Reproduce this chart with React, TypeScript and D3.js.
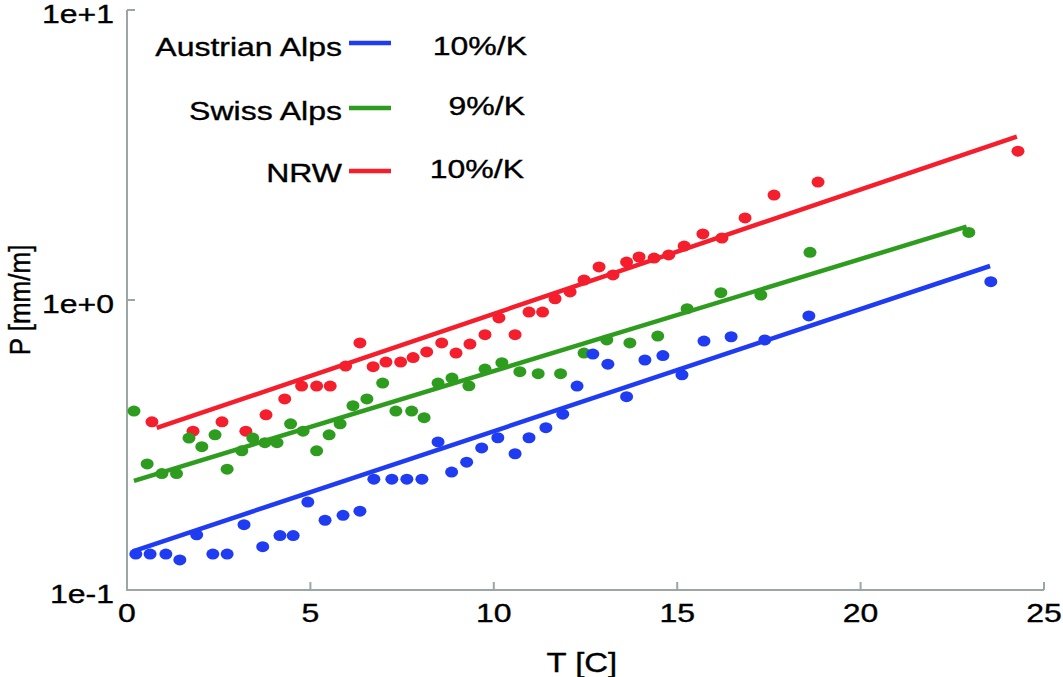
import * as d3 from 'd3';

import { useCallback } from 'react';

const width = 1063;
const height = 677;

// temperature [C] and precipitation [mm/m]
const austrianT = [
  0.24, 0.63, 1.06, 1.44, 1.9, 2.34, 2.73, 3.19, 3.7, 4.17, 4.53, 4.93, 5.4, 5.89, 6.35, 6.73, 7.22, 7.63,
  8.04, 8.48, 8.85, 9.26, 9.67, 10.11, 10.58, 10.96, 11.42, 11.88, 12.27, 12.7, 13.11, 13.62, 14.12, 14.61,
  15.13, 15.73, 16.47, 17.39, 18.59, 23.55,
];
const austrianP = [
  0.133, 0.133, 0.133, 0.127, 0.155, 0.133, 0.133, 0.168, 0.141, 0.154, 0.154, 0.201, 0.174, 0.181, 0.187,
  0.241, 0.241, 0.241, 0.241, 0.324, 0.255, 0.276, 0.309, 0.335, 0.295, 0.335, 0.363, 0.404, 0.505, 0.651,
  0.601, 0.464, 0.621, 0.643, 0.552, 0.722, 0.747, 0.728, 0.881, 1.157,
];

const swissT = [
  0.19, 0.55, 0.95, 1.35, 1.69, 2.04, 2.4, 2.73, 3.13, 3.43, 3.76, 4.09, 4.46, 4.8, 5.17, 5.51, 5.81, 6.16,
  6.54, 6.97, 7.33, 7.76, 8.1, 8.48, 8.86, 9.32, 9.76, 10.22, 10.71, 11.21, 11.82, 12.46, 13.08, 13.71, 14.47,
  15.27, 16.19, 17.28, 18.62, 22.95,
];
const swissP = [
  0.414, 0.272, 0.252, 0.252, 0.334, 0.312, 0.343, 0.261, 0.302, 0.334, 0.322, 0.322, 0.374, 0.353, 0.302,
  0.343, 0.374, 0.432, 0.456, 0.517, 0.414, 0.414, 0.393, 0.517, 0.538, 0.506, 0.578, 0.608, 0.566, 0.557,
  0.557, 0.656, 0.728, 0.711, 0.751, 0.933, 1.06, 1.04, 1.46, 1.71,
];

const nrwT = [
  0.68, 1.8, 2.59, 3.24, 3.79, 4.3, 4.76, 5.17, 5.54, 5.96, 6.35, 6.71, 7.06, 7.46, 7.8, 8.17, 8.58, 8.97,
  9.35, 9.76, 10.14, 10.58, 10.96, 11.33, 11.67, 12.08, 12.46, 12.87, 13.25, 13.62, 13.96, 14.37, 14.77,
  15.19, 15.7, 16.22, 16.85, 17.64, 18.84, 24.29,
];
const nrwP = [
  0.38, 0.353, 0.38, 0.353, 0.402, 0.456, 0.505, 0.505, 0.505, 0.592, 0.711, 0.589, 0.611, 0.611, 0.633,
  0.662, 0.711, 0.656, 0.705, 0.759, 0.867, 0.759, 0.909, 0.909, 1.01, 1.066, 1.172, 1.3, 1.22, 1.352, 1.407,
  1.395, 1.43, 1.535, 1.69, 1.636, 1.918, 2.3, 2.55, 3.26,
];

// fitted exponential lines: [T, P] at both ends
const austrianFit = [
  [0.16, 0.136],
  [23.53, 1.31],
];
const swissFit = [
  [0.19, 0.238],
  [22.89, 1.79],
];
const nrwFit = [
  [0.81, 0.362],
  [24.26, 3.66],
];

const seriesNames = ['Austrian Alps', 'Swiss Alps', 'NRW'];
const seriesRates = ['10%/K', '9%/K', '10%/K'];
const seriesColors = ['#1f3cf2', '#2e9c1e', '#f41e2c'];

const xTicks = [0, 5, 10, 15, 20, 25];
const yTicks = [0.1, 1, 10];
const yTickLabels = ['1e-1', '1e+0', '1e+1'];

const font = 'Liberation Sans, Arial, Helvetica, sans-serif';
const stretch = 1.28;
const axisColor = '#9ca6a4';

const App = () => {
  const draw = useCallback((ref: SVGSVGElement | null) => {
    if (!ref) return;

    const svg = d3.select(ref);
    svg.selectAll('*').remove();

    const xScale = d3.scaleLinear().domain([0, 25]).range([127, 1044]);
    const yScale = d3.scaleLog().domain([0.1, 10]).range([590, 10]);

    // axes
    const axes = svg.append('g').attr('stroke', axisColor).attr('stroke-width', 2).attr('fill', 'none');
    axes
      .append('path')
      .attr('d', `M${xScale(0)},${yScale(10)}V${yScale(0.1)}H${xScale(25)}`);

    axes
      .selectAll('line.xt')
      .data(xTicks.slice(1))
      .join('line')
      .attr('x1', (d) => xScale(d))
      .attr('x2', (d) => xScale(d))
      .attr('y1', yScale(0.1))
      .attr('y2', yScale(0.1) - 8);

    axes
      .selectAll('line.yt')
      .data(yTicks.slice(1))
      .join('line')
      .attr('x1', xScale(0))
      .attr('x2', xScale(0) + 8)
      .attr('y1', (d) => yScale(d))
      .attr('y2', (d) => yScale(d));

    const text = (
      g: d3.Selection<SVGGElement, unknown, null, undefined>,
      x: number,
      y: number,
      s: string,
      anchor: string,
      size = 25,
      rotate = 0,
      sx = stretch,
    ) =>
      g
        .append('text')
        .attr('transform', `translate(${x},${y}) scale(${sx},1)${rotate ? ` rotate(${rotate})` : ''}`)
        .attr('text-anchor', anchor)
        .attr('font-family', font)
        .attr('font-size', size)
        .attr('fill', '#000')
        .attr('stroke', '#000')
        .attr('stroke-width', 0.35)
        .text(s);

    const labels = svg.append('g');
    xTicks.forEach((t) => text(labels, xScale(t), 622, String(t), 'middle'));
    yTicks.forEach((t, i) => text(labels, 114, yScale(t) + 13, yTickLabels[i], 'end'));
    text(labels, xScale(12.4), 672, 'T [C]', 'middle', 27, 0, 1.22);
    text(labels, 30, 300, 'P [mm/m]', 'middle', 26, -90, 1.12);

    // series: drawn red first so blue ends up on top
    const series = [
      { t: nrwT, p: nrwP, fit: nrwFit, color: seriesColors[2] },
      { t: swissT, p: swissP, fit: swissFit, color: seriesColors[1] },
      { t: austrianT, p: austrianP, fit: austrianFit, color: seriesColors[0] },
    ];

    const line = d3
      .line<number[]>()
      .x((d) => xScale(d[0]))
      .y((d) => yScale(d[1]));

    series.forEach((s) => {
      const g = svg.append('g');
      g.selectAll('ellipse')
        .data(s.t.map((t, i) => [t, s.p[i]]))
        .join('ellipse')
        .attr('cx', (d) => xScale(d[0]))
        .attr('cy', (d) => yScale(d[1]))
        .attr('rx', 6.5)
        .attr('ry', 5.5)
        .attr('fill', s.color);
      g.append('path')
        .attr('d', line(s.fit))
        .attr('stroke', s.color)
        .attr('stroke-width', 4.5)
        .attr('fill', 'none');
    });

    // legend
    const legend = svg.append('g');
    const lineY = [43, 108, 171];
    const nameY = [56, 120, 182];
    const rateY = [55, 115, 178];
    const rateX = [527, 525, 524];
    seriesNames.forEach((name, i) => {
      text(legend, 342, nameY[i], name, 'end');
      legend
        .append('line')
        .attr('x1', 349)
        .attr('x2', 391)
        .attr('y1', lineY[i])
        .attr('y2', lineY[i])
        .attr('stroke', seriesColors[i])
        .attr('stroke-width', 4.5);
      text(legend, rateX[i], rateY[i], seriesRates[i], 'end');
    });
  }, []);

  return (
    <div style={{ position: 'absolute', left: 0, top: 0 }}>
      <svg width={width} height={height} ref={draw} style={{ display: 'block', background: '#fff' }}></svg>
    </div>
  );
};

export default App;
